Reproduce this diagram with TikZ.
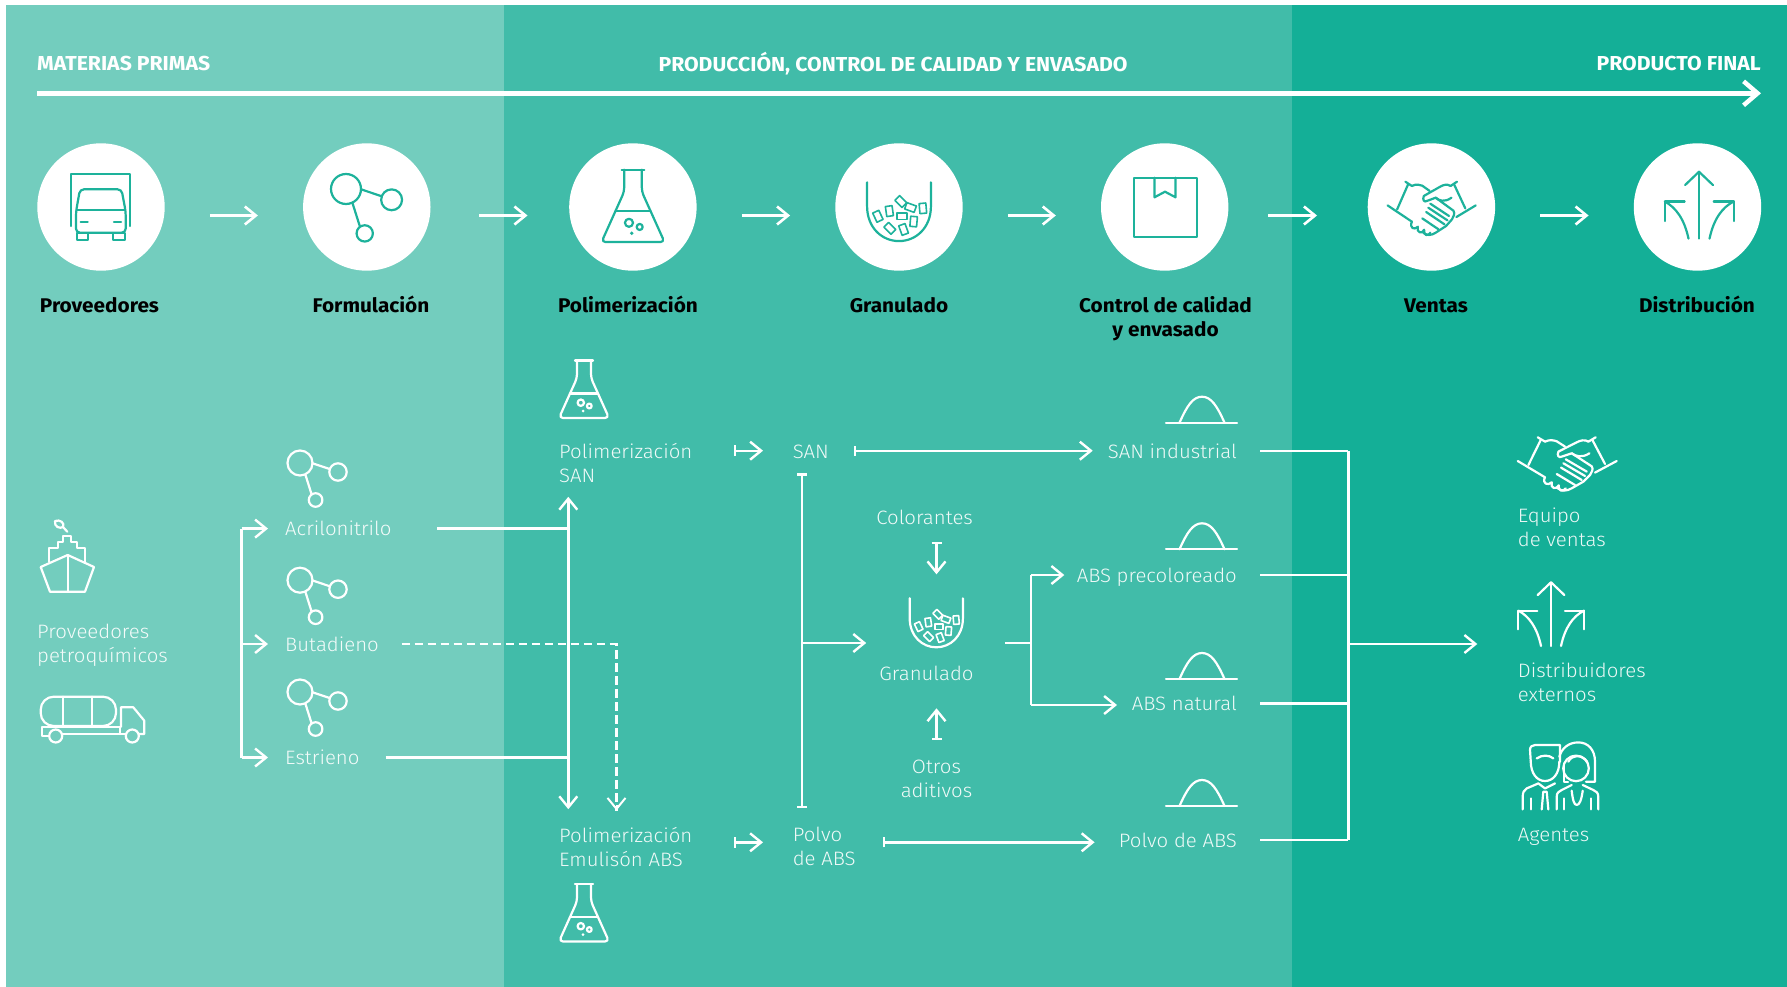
\documentclass[tikz,border=0pt]{standalone}
\usepackage{fontspec}
\setmainfont{Fira Sans}
\newfontfamily\thinfont[FakeStretch=1.05]{Fira Sans Light}
\newfontfamily\heavyfont[FakeStretch=1.05]{Fira Sans Bold}
\usetikzlibrary{arrows.meta}

\definecolor{BandLeft}{HTML}{73CDBE}
\definecolor{BandMiddle}{HTML}{41BCA9}
\definecolor{BandRight}{HTML}{14AF97}
\definecolor{IconTeal}{HTML}{1DB29B}

\tikzset{
	>={Straight Barb[length=11pt,width=18pt]},
	flow/.style={white, line width=2.4pt},
	dashflow/.style={flow, line width=2.2pt, dash pattern=on 8.5pt off 4.5pt},
	stepflow/.style={flow, ->, line width=2.6pt},
	icon/.style={line width=2.2pt, line join=round, line cap=round},
	whiteicon/.style={icon, white},
	tealicon/.style={icon, IconTeal},
	stepcircle/.style={draw=none, fill=white, circle, minimum size=127.4pt, inner sep=0pt},
	headtext/.style={inner sep=0pt, white, font=\heavyfont\fontsize{20.2}{24}\selectfont},
	steptext/.style={inner sep=0pt, black, align=center, font=\heavyfont\fontsize{19.8}{24}\selectfont},
	stepline/.style={steptext, text height=16pt, text depth=2pt},
	flowtext/.style={inner sep=0pt, white, text opacity=0.92, align=left, font=\thinfont\fontsize{19.4}{24}\selectfont},
	oneline/.style={flowtext, text height=17pt, text depth=2.4pt},
	molecule/.pic={
		\draw (0,0) circle (12.5);
		\draw (38,9) circle (8.7);
		\draw (15.6,37) circle (6.8);
		\draw (12.3,0.2) -- (29.6,6);
		\draw (5.3,11.4) -- (11.5,31);
	},
	flask/.pic={
		\draw[rounded corners=4pt] (-7,0.5) -- (-7,18) -- (-25,58) -- (25,58) -- (7,18) -- (7,0.5);
		\draw (-9,0.5) -- (9,0.5);
		\draw (-14,33.5) -- (14,33.5);
		\draw (-3.2,42.7) circle (3.2);
		\draw (5.3,46) circle (2.4);
		\fill (-1,51) circle (1.5);
	},
	granules/.pic={
		\draw (-26.6,0) -- (-26.6,20) .. controls (-26.6,38) and (-14,49) .. (0,49)
			.. controls (14,49) and (26.6,38) .. (26.6,20) -- (26.6,0);
		\foreach \gx/\gy/\ga in {1.5/16/45, 9.6/21/70, 19.9/21.7/5, -8/24/8, -17.6/28.3/25, 2.7/28.3/90, 12.2/32.7/-5, -7.7/38.3/45, 3.8/39.3/20}
			\draw[line width=1.6pt, shift={(\gx,\gy)}, rotate=\ga] (-2.8,-4.2) rectangle (2.8,4.2);
	},
	handshake/.pic={
		\draw (-49,-2.3) -- (-21.7,14);
		\draw (-26,-23.3) -- (-38.3,1.7);
		\draw (-29,-26) -- (-21.7,-21.7);
		\draw (-21.7,-21.7) .. controls (-17,-24) and (-13,-23) .. (-10,-22) -- (-1.7,-16.7);
		\draw (29,-26) -- (21.7,-21.7);
		\draw (25.7,-23.3) -- (38.3,0.7);
		\draw (50,-2.3) -- (28.3,9.3);
		\draw (21.7,-21.7) .. controls (18,-24) and (14,-23) .. (10,-21) -- (-8.3,-11.7)
			.. controls (-10,-8) and (-8,-5) .. (-5,-6.7) -- (5,-10) .. controls (9,-7) and (15,-5) .. (22.7,-10);
		\draw (5,-10) -- (25,3) .. controls (27,6) and (25,9) .. (23.3,11.7) -- (16.7,18.3)
			-- (5,25) .. controls (0,28) and (-5,28) .. (-9,25);
		\draw (-1,-4) -- (20,8.3);
		\draw (-3.3,0) -- (18.3,12.7);
		\draw (-5.7,4.3) -- (15,16.7);
		\draw (-10,10.7) -- (8.3,21.7);
		\draw (-21.7,14) .. controls (-25,20) and (-19,23) .. (-15,19)
			.. controls (-17,25) and (-10,27) .. (-8,22) .. controls (-9,28) and (-3,29) .. (-1,25);
	},
	routes/.pic={
		\draw (0,32.7) -- (0,-31);
		\draw (-13.3,-18.3) -- (0,-31) -- (13.3,-18.3);
		\draw (-10,32.7) .. controls (-14,14) and (-22,3) .. (-32.7,-2.7);
		\draw (-32.7,16) -- (-32.7,-2.7) -- (-13.7,-2.7);
		\draw (10,32.7) .. controls (14,14) and (22,3) .. (33,-2.7);
		\draw (33,16) -- (33,-2.7) -- (14,-2.7);
	},
	mound/.pic={
		\draw (-36,0) -- (35,0);
		\draw (-22.5,0) .. controls (-15,-17) and (-9,-26) .. (0,-26)
			.. controls (9,-26) and (15,-17) .. (22.5,0);
	},
}

\begin{document}
\begin{tikzpicture}[x=1pt,y=-1pt]
	
	\useasboundingbox (0,0) rectangle (1787,987);
	\fill[white] (0,0) rectangle (1787,987);
	
	%Bands
	\fill[BandLeft] (5.5,5) rectangle (503.5,987);
	\fill[BandMiddle] (503.5,5) rectangle (1292,987);
	\fill[BandRight] (1292,5) rectangle (1787,987);
	
	%Header
	\node (HeadMaterias) at (37,64) [headtext, anchor=west]{MATERIAS PRIMAS};
	\node (HeadProduccion) at (893,64) [headtext]{PRODUCCIÓN, CONTROL DE CALIDAD Y ENVASADO};
	\node (HeadFinal) at (1761,64) [headtext, anchor=east]{PRODUCTO FINAL};
	\coordinate (TimelineStart) at (37,93.3);
	\coordinate (TimelineEnd) at (1761,93.3);
	\draw[flow, line width=4.5pt, -{Straight Barb[length=14pt,width=24pt]}] (TimelineStart) -- (TimelineEnd);
	
	%Steps
	\node (CircleProveedores) at (101,207) [stepcircle]{};
	\node (CircleFormulacion) at (366.8,207) [stepcircle]{};
	\node (CirclePolimerizacion) at (632.9,207) [stepcircle]{};
	\node (CircleGranulado) at (899,207) [stepcircle]{};
	\node (CircleControl) at (1164.7,207) [stepcircle]{};
	\node (CircleVentas) at (1431.4,207) [stepcircle]{};
	\node (CircleDistribucion) at (1697.5,207) [stepcircle]{};
	\node (StepProveedores) at (99.5,305) [stepline]{Proveedores};
	\node (StepFormulacion) at (371,305) [stepline]{Formulación};
	\node (StepPolimerizacion) at (628,305) [stepline]{Polimerización};
	\node (StepGranulado) at (899,305) [stepline]{Granulado};
	\node (StepControl) at (1165.5,318.5) [steptext]{Control de calidad\\y envasado};
	\node (StepVentas) at (1436,305) [stepline]{Ventas};
	\node (StepDistribucion) at (1697,305) [stepline]{Distribución};
	\coordinate (StepRow) at (0,215.5);
	\foreach \a/\b/\d in {Proveedores/Formulacion/0, Formulacion/Polimerizacion/3.5, Polimerizacion/Granulado/0, Granulado/Control/0, Control/Ventas/-5.5, Ventas/Distribucion/0}
		\draw[stepflow, shorten <=45+\d, shorten >=45-\d] (Circle\a.east |- StepRow) -- (Circle\b.west |- StepRow);
	
	%Icons in the steps
	\begin{scope}[tealicon]
		\draw (71,226) -- (71,174.3) -- (130,174.3) -- (130,226);
		\draw[rounded corners=4pt] (76,232.7) -- (76,211.7) -- (80,189.3) -- (121.5,189.3) -- (125.7,211.7) -- (125.7,232.7) -- cycle;
		\draw (77,210) -- (125,210);
		\draw (77,232.7) rectangle (88.3,240);
		\draw (113.3,232.7) rectangle (125,240);
		\draw (80.7,221.7) -- (87.7,221.7);
		\draw (114,221.7) -- (121,221.7);
		\pic[scale=1.2] at (346,189) {molecule};
		\pic[scale=1.26] at (633,169) {flask};
		\pic[scale=1.2] at (899,182.3) {granules};
		\draw (1133.6,177.7) rectangle (1197,237.3);
		\draw (1154.5,177.7) -- (1154.5,197.3) -- (1165,191.7) -- (1175.5,197.3) -- (1175.5,177.7);
		\pic[xscale=0.89] at (1431.2,207.7) {handshake};
		\pic[scale=1.05] at (1699,204.3) {routes};
	\end{scope}
	
	%Blocks
	\node (Petroquimicos) at (37,645.5) [flowtext, anchor=west]{Proveedores\\petroquímicos};
	\node (Acrilonitrilo) at (285,528.6) [oneline, anchor=west]{Acrilonitrilo};
	\node (Butadieno) at (285,644) [oneline, anchor=west]{Butadieno};
	\node (Estrieno) at (285,757.5) [oneline, anchor=west]{Estrieno};
	\node (PolimerizacionSAN) at (559,463) [flowtext, anchor=west]{Polimerización\\SAN};
	\node (PolimerizacionABS) at (559,847) [flowtext, anchor=west]{Polimerización\\Emulisón ABS};
	\node (SAN) at (792.6,450.7) [oneline, anchor=west]{SAN};
	\node (PolvoLeft) at (792.6,846) [flowtext, anchor=west]{Polvo\\de ABS};
	\node (Colorantes) at (924.6,516.7) [oneline]{Colorantes};
	\node (Granulado) at (926.5,673.3) [oneline]{Granulado};
	\node (Aditivos) at (936.5,779) [flowtext, align=center]{Otros\\aditivos};
	\node (SANindustrial) at (1237,450.7) [oneline, anchor=east]{SAN industrial};
	\node (ABSprecoloreado) at (1237,575) [oneline, anchor=east]{ABS precoloreado};
	\node (ABSnatural) at (1237,703.3) [oneline, anchor=east]{ABS natural};
	\node (PolvoRight) at (1237,840) [oneline, anchor=east]{Polvo de ABS};
	\node (EquipoVentas) at (1517.7,527) [flowtext, anchor=west]{Equipo\\de ventas};
	\node (Distribuidores) at (1517.7,682) [flowtext, anchor=west]{Distribuidores\\externos};
	\node (Agentes) at (1517.7,834.5) [oneline, anchor=west]{Agentes};
	
	%Icons of the blocks
	\begin{scope}[whiteicon]
		\draw (40.7,567) -- (67.7,555) -- (94,567) -- (85,591.7) -- (50,591.7) -- cycle;
		\draw (67.7,555) -- (67.7,591.7);
		\draw (49.3,561.7) -- (49.3,548.3) -- (58.3,548.3) -- (58.3,542.3) -- (63.3,542.3) -- (63.3,536) -- (71,536) -- (71,542.3) -- (77.3,542.3) -- (77.3,548.3) -- (85,548.3) -- (85,561.7);
		\draw (55,521) .. controls (60,519) and (65,523) .. (63,527) .. controls (60,529) and (54,527) .. (55,521);
		\draw (63,527) -- (67.3,531.7);
		\draw[rounded corners=13pt] (40.7,696.7) rectangle (116,726);
		\draw (63.3,696.7) -- (63.3,726);
		\draw (91.7,696.7) -- (91.7,726);
		\draw (121,726.7) -- (121,707.3) -- (133.3,707.3) -- (144.3,720.7) -- (144.3,734) -- (138.7,734);
		\draw (120,727.3) -- (41.7,727.3) -- (41.7,736) -- (48.5,736);
		\draw (120,727.3) -- (120,734);
		\draw (62.7,734) -- (125.5,734);
		\draw (55.7,736) circle (6.5);
		\draw (132.3,736) circle (6.5);
		\pic at (300,463) {molecule};
		\pic at (300,580.2) {molecule};
		\pic at (300,692) {molecule};
		\pic at (584,360) {flask};
		\pic at (584,883.5) {flask};
		\pic at (936.3,598.3) {granules};
		\pic at (1202,422.7) {mound};
		\pic at (1202,549.3) {mound};
		\pic at (1202,679) {mound};
		\pic at (1202,806) {mound};
		\pic at (1566.7,463.3) {handshake};
		\pic at (1551,613.3) {routes};
		\begin{scope}[shift={(1560,776.7)}]
			\draw (-29.3,-16) -- (-30,-26.7) .. controls (-30,-30) and (-28,-31.7) .. (-25,-31.7) -- (0,-31.7) -- (0,-15);
			\draw (-29.3,-16) .. controls (-29.3,-3) and (-23,4.3) .. (-15,4.3) .. controls (-7,4.3) and (-0.7,-3) .. (-0.7,-15);
			\draw (-23.3,-18.3) .. controls (-18,-22) and (-11,-22) .. (-6.7,-18.3);
			\draw (-37.3,32.7) -- (-37.3,20) .. controls (-37.3,16) and (-36,13) .. (-33.3,11.7) -- (-21.7,6.7) -- (-15,11.7) -- (-5,6.7);
			\draw (-18.3,32.7) -- (-16.7,15) -- (-13.3,15) -- (-11.7,32.7);
			\draw (-29.3,32.7) -- (-29.3,21.7);
			\draw (-0.7,-20) .. controls (1.7,-28.3) and (8.3,-34.3) .. (18.3,-34.3) .. controls (28.3,-34.3) and (35,-26.7) .. (35,-15) -- (35,5) -- (26,5);
			\draw (4.3,-11.7) -- (4.3,5) -- (8,5);
			\draw (16,-8.3) circle (12.8);
			\draw (8.3,-15) .. controls (12,-22) and (21,-23) .. (27.3,-15);
			\draw (-3.3,32.7) -- (-3.3,20) .. controls (-3.3,16) and (-1,14.5) .. (1.7,13.3) -- (11.7,8.3);
			\draw (11.7,14) .. controls (12.7,23) and (14,28.3) .. (16.7,28.3) .. controls (19.5,28.3) and (21.5,23) .. (22.7,14);
			\draw (22.7,8.3) -- (33.3,13.3) .. controls (36,14.5) and (38.3,16) .. (38.3,20) -- (38.3,32.7);
			\draw (4.3,32.7) -- (4.3,21.7);
			\draw (30.7,32.7) -- (30.7,21.7);
		\end{scope}
	\end{scope}
	
	%Links
	\coordinate (FormulaBus) at (241.5,644);
	\coordinate (MergeTop) at (568.3,496.8);
	\coordinate (MergeBottom) at (568.3,809.2);
	\coordinate (DashCorner) at (616.5,644);
	\coordinate (DashEnd) at (616.5,810.5);
	\coordinate (DashTip) at (616.5,805);
	\coordinate (OutletBus) at (1348.3,644);
	\coordinate (GranuladoBus) at (1031,643);
	\coordinate (ReactorBus) at (802,643);
	\coordinate (ReactorTop) at (802,473.3);
	\coordinate (ReactorBottom) at (802,808.3);
	\coordinate (PolvoRow) at (0,842.3);
	\coordinate (NaturalRow) at (0,705);
	\coordinate (AddTop) at (936.5,541.7);
	\coordinate (AddUp) at (936.5,574.3);
	\coordinate (AddBottom) at (936.5,740);
	\coordinate (AddDown) at (936.5,708.3);
	
	\draw[flow] (FormulaBus |- Acrilonitrilo.west) -- (FormulaBus |- Estrieno.west);
	\draw[flow, ->, shorten >=17pt] (FormulaBus |- Acrilonitrilo.west) -- (Acrilonitrilo.west);
	\draw[flow, ->, shorten >=17pt] (FormulaBus) -- (Butadieno.west);
	\draw[flow, ->, shorten >=17pt] (FormulaBus |- Estrieno.west) -- (Estrieno.west);
	\draw[flow, <->] (MergeTop) -- (MergeBottom);
	\draw[flow, shorten <=45.6pt] (Acrilonitrilo.east) -- (MergeTop |- Acrilonitrilo.east);
	\draw[flow, shorten <=26pt] (Estrieno.east) -- (MergeTop |- Estrieno.east);
	\draw[dashflow, shorten <=22.6pt] (Butadieno.east) -- (DashCorner) -- (DashEnd);
	\draw[flow, line width=2pt, ->] (DashTip) -- (DashEnd);
	
	\draw[flow, {Bar[width=11pt]}->, shorten <=41.3pt, shorten >=29.6pt] (PolimerizacionSAN.east |- SAN.west) -- (SAN.west);
	\draw[flow, {Bar[width=11pt]}->, shorten <=41.3pt, shorten >=29.6pt] (PolimerizacionABS.east |- PolvoRow) -- (PolvoLeft.west |- PolvoRow);
	\draw[flow, {Bar[width=10pt]}->, shorten <=24.7pt, shorten >=15pt] (SAN.east) -- (SANindustrial.west);
	\draw[flow, {Bar[width=10pt]}->, shorten <=26.8pt, shorten >=24.2pt] (PolvoLeft.east |- PolvoRow) -- (PolvoRight.west |- PolvoRow);
	\draw[flow, {Bar[width=10pt]}-{Bar[width=10pt]}] (ReactorTop) -- (ReactorBottom);
	\draw[flow, ->, shorten >=13pt] (ReactorBus) -- (Granulado.west |- ReactorBus);
	\draw[flow, {Bar[width=10pt]}->] (AddTop) -- (AddUp);
	\draw[flow, {Bar[width=10pt]}->] (AddBottom) -- (AddDown);
	\draw[flow, shorten <=31pt] (Granulado.east |- GranuladoBus) -- (GranuladoBus);
	\draw[flow] (GranuladoBus |- ABSprecoloreado.west) -- (GranuladoBus |- NaturalRow);
	\draw[flow, ->, shorten >=12.3pt] (GranuladoBus |- ABSprecoloreado.west) -- (ABSprecoloreado.west);
	\draw[flow, ->, shorten >=14.7pt] (GranuladoBus |- NaturalRow) -- (ABSnatural.west |- NaturalRow);
	
	\draw[flow] (OutletBus |- SANindustrial.east) -- (OutletBus |- PolvoRight.east);
	\foreach \o in {SANindustrial, ABSprecoloreado, ABSnatural, PolvoRight}
		\draw[flow, shorten <=23pt] (\o.east) -- (OutletBus |- \o.east);
	\draw[flow, ->, shorten >=40.4pt] (OutletBus) -- (Distribuidores.west |- OutletBus);
	
\end{tikzpicture}
\end{document}
